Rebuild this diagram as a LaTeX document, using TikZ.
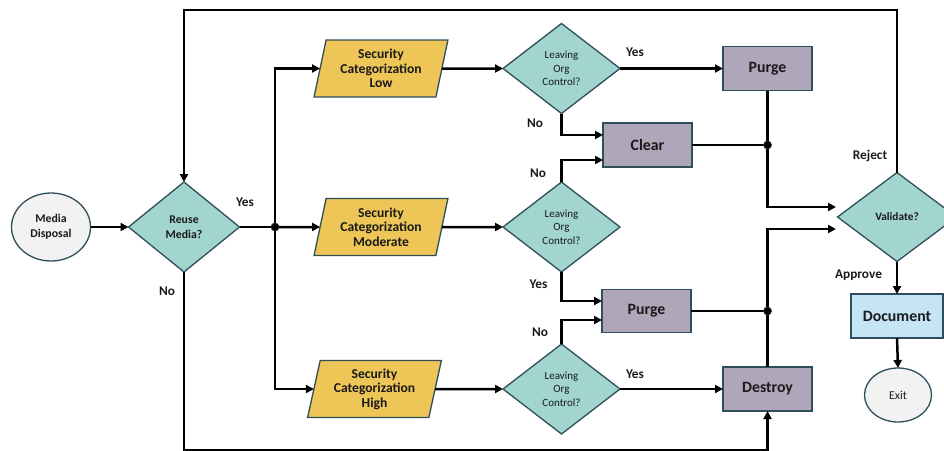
\documentclass[tikz,border=0pt]{standalone}
\usepackage{fontspec}
\setmainfont{Carlito}
\usetikzlibrary{shapes.geometric,arrows.meta}
\definecolor{bordc}{HTML}{2E4E5C}
\definecolor{diafill}{HTML}{A2D4D0}
\definecolor{parafill}{HTML}{EEC557}
\definecolor{boxfill}{HTML}{B0A6BA}
\definecolor{docfill}{HTML}{C5E4F4}
\definecolor{ellfill}{HTML}{F2F2F2}
\definecolor{txtc}{HTML}{1A1A1A}
\begin{document}
\begin{tikzpicture}[x=1pt,y=-1pt,
  base/.style={draw=bordc, line width=1.3pt, inner sep=0pt, outer sep=0pt, align=center, text=txtc},
  ell/.style={base, ellipse, fill=ellfill},
  dia/.style={base, diamond, fill=diafill, minimum width=117pt, minimum height=90pt},
  para/.style={base, trapezium, trapezium left angle=77, trapezium right angle=103, trapezium stretches=true,
     fill=parafill, minimum width=135pt, minimum height=57pt, font=\bfseries\fontsize{13.6}{14.5}\selectfont},
  actbox/.style={base, rectangle, fill=boxfill, minimum width=89pt, minimum height=44pt, font=\bfseries\fontsize{15.8}{17}\selectfont},
  leavetxt/.style={font=\fontsize{11}{13.5}\selectfont},
  lbl/.style={font=\bfseries\fontsize{13.3}{15}\selectfont, text=txtc, inner sep=0pt},
  dot/.style={circle, fill=black, draw=bordc, inner sep=0pt, minimum size=8pt},
  wire/.style={line width=2.5pt, draw=black},
  arr/.style={wire, -{Triangle[length=8pt,width=8pt]}}
]
\useasboundingbox (0,0) rectangle (944,450);

% nodes
\node[ell, minimum width=79pt, minimum height=68pt, font=\bfseries\fontsize{11.8}{14.5}\selectfont] (md) at (51,227) {Media\\Disposal};
\node[dia, minimum width=111pt, minimum height=90pt, font=\bfseries\fontsize{11.8}{15}\selectfont] (reuse) at (184,227) {Reuse\\Media?};
\node[dot] (jn) at (275,227) {};

\node[para] (low) at (381,68.5) {Security\\Categorization\\Low};
\node[para] (mod) at (381,227) {Security\\Categorization\\Moderate};
\node[para] (high) at (374.5,389) {Security\\Categorization\\High};

\node[dia, leavetxt] (lowd) at (561.5,68.5) {Leaving\\Org\\Control?};
\node[dia, leavetxt] (modd) at (561.5,227) {Leaving\\Org\\Control?};
\node[dia, leavetxt] (highd) at (561.5,389) {Leaving\\Org\\Control?};

\node[actbox] (p1) at (767.5,68.5) {Purge};
\node[actbox] (clear) at (647.5,145) {Clear};
\node[actbox, minimum height=43pt] (pm) at (646.5,311) {Purge};
\node[actbox] (ds) at (767.5,389) {Destroy};

\node[dot] (d1) at (767.5,145) {};
\node[dot] (d2) at (767.5,311) {};

\node[dia, minimum width=119pt, minimum height=89pt, font=\bfseries\fontsize{11.3}{13}\selectfont] (val) at (897,217) {Validate?};
\node[base, rectangle, fill=docfill, minimum width=92pt, minimum height=44pt, font=\bfseries\fontsize{15.8}{17}\selectfont] (doc) at (897,316) {Document};
\node[ell, minimum width=67pt, minimum height=54pt, font=\fontsize{12}{14}\selectfont] (exit) at (898,395) {Exit};

% helper coordinates
\coordinate (c1) at (0,135);
\coordinate (c2) at (0,160);
\coordinate (c3) at (0,301);
\coordinate (c4) at (0,320);
\coordinate (va1) at (836,207);
\coordinate (va2) at (836,229);
\coordinate (b1) at (767.5,450.5);
\coordinate (t1) at (184,10);

% connectors
\draw[arr] (md.east) -- (reuse.west);
\draw[wire] (reuse.east) -- (jn.center);
\draw[arr] (jn.center) |- (low.west);
\draw[arr] (jn.center) -- (mod.west);
\draw[arr] (jn.center) |- (high.west);

\draw[arr] (low.east) -- (lowd.west);
\draw[arr] (mod.east) -- (modd.west);
\draw[arr] (high.east) -- (highd.west);

\draw[arr] (lowd.east) -- (p1.west);
\draw[arr] (lowd.south) |- (clear.west |- c1);
\draw[arr] (modd.north) |- (clear.west |- c2);
\draw[arr] (modd.south) |- (pm.west |- c3);
\draw[arr] (highd.north) |- (pm.west |- c4);
\draw[arr] (highd.east) -- (ds.west);

\draw[wire] (clear.east) -- (d1.center);
\draw[arr] (p1.south) |- (va1);
\draw[wire] (pm.east) -- (d2.center);
\draw[arr] (ds.north) |- (va2);

\draw[arr] (reuse.south) |- (b1) -- (ds.south);
\draw[arr] (val.north) |- (t1) -- (reuse.north);
\draw[arr] (val.south) -- (doc.north);
\draw[arr] (doc.south) -- (exit.north);

\node[dot] at (jn) {};
\node[dot] at (d1) {};
\node[dot] at (d2) {};

% labels
\node[lbl] (l1) at (245,202) {Yes};
\node[lbl] (l2) at (167,291.5) {No};
\node[lbl] (l3) at (635,52) {Yes};
\node[lbl] (l4) at (535,123) {No};
\node[lbl] (l5) at (538,173.5) {No};
\node[lbl] (l6) at (538.5,284) {Yes};
\node[lbl] (l7) at (540,332) {No};
\node[lbl] (l8) at (635,374.5) {Yes};
\node[lbl] (l9) at (870,156) {Reject};
\node[lbl] (l10) at (858.5,275.5) {Approve};
\end{tikzpicture}
\end{document}
